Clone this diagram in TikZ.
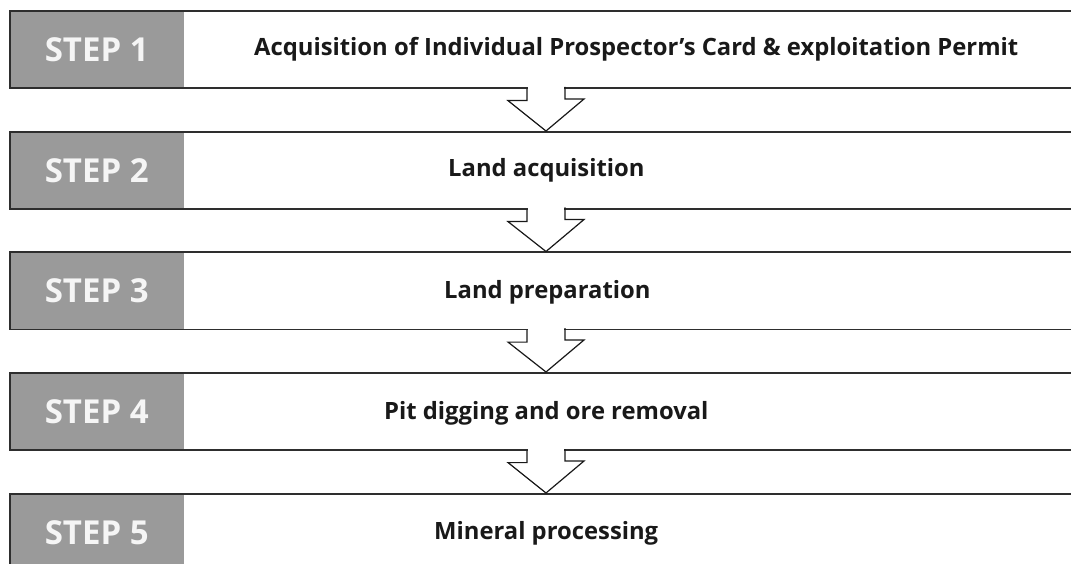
\documentclass[tikz,border=0pt]{standalone}
\usepackage{fontspec}
\setmainfont{Open Sans}
\usetikzlibrary{calc}
\definecolor{edge}{HTML}{2E2E2E}
\definecolor{labelgray}{HTML}{9A9A9A}
\tikzset{
  stepbox/.style={draw=edge, line width=1.6pt, minimum width=1080pt, minimum height=77pt, inner sep=0pt, anchor=north west},
  graybox/.style={fill=labelgray, minimum width=175pt, minimum height=77pt, inner sep=0pt, anchor=north west},
  steplabel/.style={text=white!96!black, font=\fontsize{33}{33}\selectfont\bfseries, inner sep=0pt},
  maintext/.style={text=black!90, font=\fontsize{23.8}{23.8}\selectfont\bfseries, inner sep=0pt, anchor=base west},
  arrowline/.style={draw=black!90, line width=1.2pt, line join=miter},
}
\begin{document}
\begin{tikzpicture}[x=1pt,y=-1pt]
\useasboundingbox (0,0) rectangle (1071,564);
\clip (0,0) rectangle (1071,564);
\fill[white] (0,0) rectangle (1071,564);
\coordinate (ax) at (546,0);
% boxes
\foreach \i/\t in {1/10,2/131,3/251.5,4/372,5/493}{
  \node[graybox] (g\i) at (9,\t) {};
  \node[stepbox] (b\i) at (9,\t) {};
  \node[steplabel] at ($(g\i.center)+(0,1)$) {STEP \i};
}
% texts
\node[maintext] (t1) at (254,56) {Acquisition of Individual Prospector’s Card \& exploitation Permit};
\node[maintext] (t2) at (448,177) {Land acquisition};
\node[maintext] (t3) at (444,298.5) {Land preparation};
\node[maintext] (t4) at (384,419) {Pit digging and ore removal};
\node[maintext] (t5) at (434,539) {Mineral processing};
% arrows
\foreach \a/\b in {1/2,2/3,3/4,4/5}{
  \fill[white] ($(b\a.south -| ax)+(-18.4,-1.5)$) rectangle ($(b\a.south -| ax)+(18.4,1)$);
  \draw[arrowline] ($(b\a.south -| ax)+(-19,0)$) -- ++(0,12) -- ++(-19,0)
     -- (b\b.north -| ax) -- ++(38,-32) -- ++(-19,0) -- ++(0,-12);
}
\end{tikzpicture}
\end{document}
